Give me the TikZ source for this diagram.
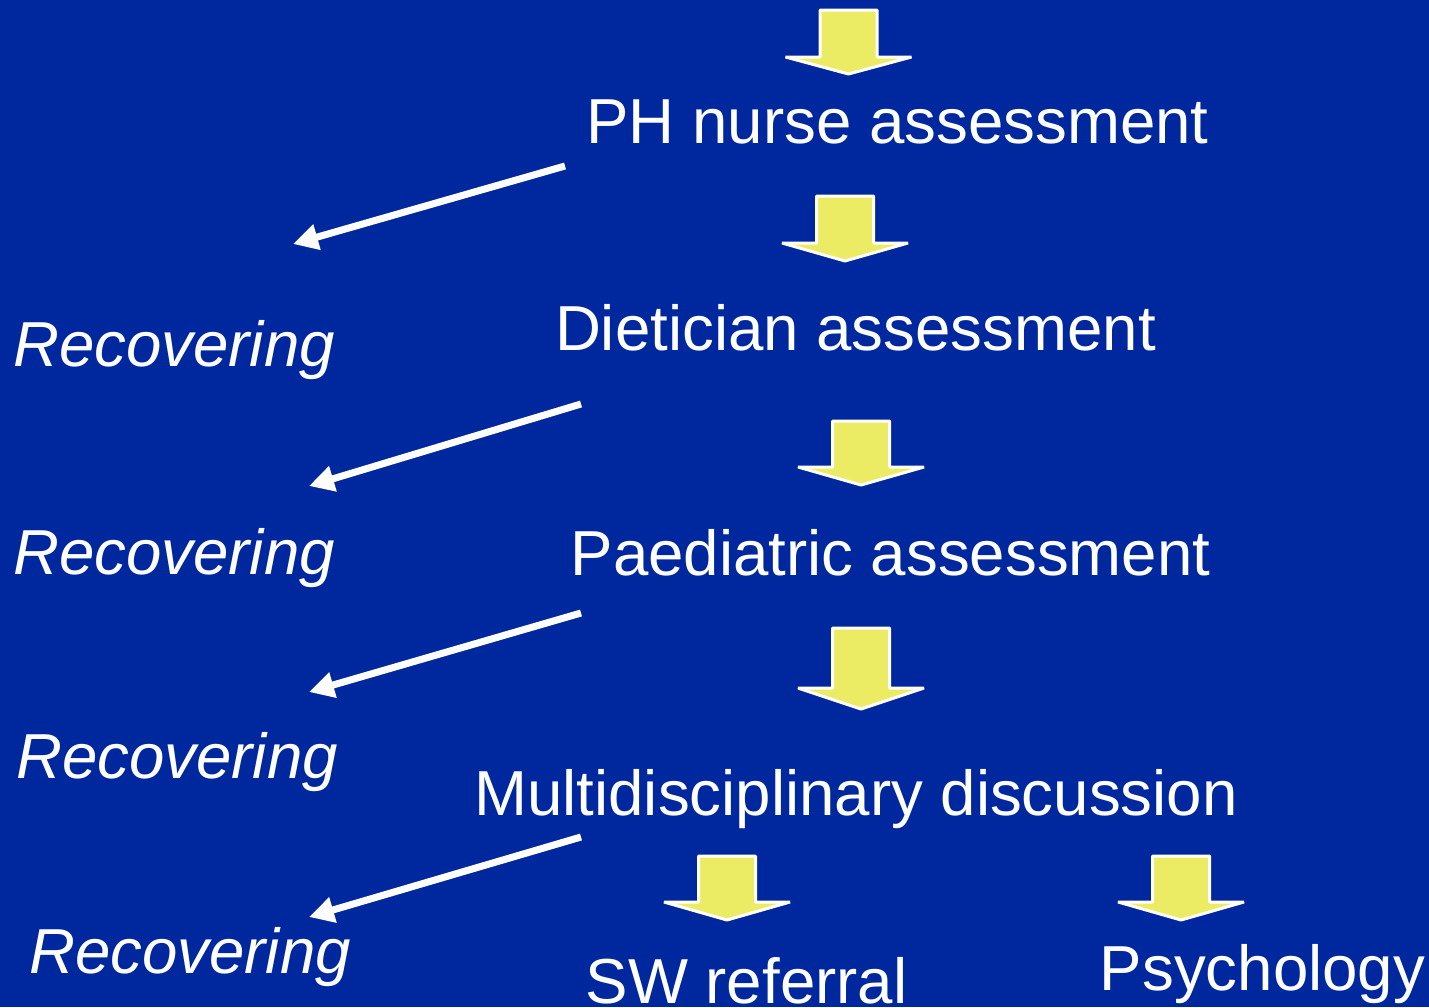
\documentclass[tikz,border=0pt]{standalone}
\usepackage{fontspec}
\setmainfont{Liberation Sans}
\usetikzlibrary{arrows.meta}
\definecolor{bg}{HTML}{00289E}
\definecolor{ylw}{HTML}{ECEC64}
\tikzset{
  blockarrow/.style={fill=ylw,draw=white,line width=1.5pt,line join=bevel},
  stagetext/.style={text=white,inner sep=0pt,anchor=base,font=\fontsize{31.8pt}{36pt}\selectfont},
  rectext/.style={stagetext,font=\fontsize{31.8pt}{36pt}\selectfont\itshape},
  whitearrow/.style={draw=white,line width=3.5pt,-{Triangle[length=12.5pt,width=12.5pt]}}
}
% #1 centre x, #2 top y, #3 head y, #4 tip y
\newcommand\yarrow[4]{%
  \draw[blockarrow] (#1-28.5,#2) -- (#1+28.5,#2) -- (#1+28.5,#3) -- (#1+63,#3)
    -- (#1,#4) -- (#1-63,#3) -- (#1-28.5,#3) -- cycle;}
\begin{document}
\begin{tikzpicture}[x=0.5pt,y=-0.5pt]
\fill[bg] (0,0) rectangle (1429,1007);
\useasboundingbox (0,0) rectangle (1429,1007);

% block arrows
\yarrow{848.5}{10}{57}{74}
\yarrow{845}{196}{243}{261}
\yarrow{861}{421}{467}{485}
\yarrow{861}{628}{688}{709}
\yarrow{727}{856}{902}{920}
\yarrow{1181}{856}{902}{920}

% stage texts
\node[stagetext] (ph) at (897.5,143) {PH nurse assessment};
\node[stagetext] (diet) at (855.5,350) {Dietician assessment};
\node[stagetext] (paed) at (890.5,575) {Paediatric assessment};
\node[stagetext] (mdd) at (856,815) {Multidisciplinary discussion};
\node[stagetext] (sw) at (746.5,1003) {SW referral};
\node[stagetext] (psy) at (1262.5,990) {Psychology};

% recovering texts
\node[rectext] (rec1) at (174,366) {Recovering};
\node[rectext] (rec2) at (174,574) {Recovering};
\node[rectext] (rec3) at (177,778) {Recovering};
\node[rectext] (rec4) at (190,973) {Recovering};

% white arrows
\coordinate (w1s) at (565,166); \coordinate (w1e) at (293,244);
\coordinate (w2s) at (581,404); \coordinate (w2e) at (309,486);
\coordinate (w3s) at (581,613); \coordinate (w3e) at (309,692);
\coordinate (w4s) at (581,837); \coordinate (w4e) at (309,917);
\draw[whitearrow] (w1s) -- (w1e);
\draw[whitearrow] (w2s) -- (w2e);
\draw[whitearrow] (w3s) -- (w3e);
\draw[whitearrow] (w4s) -- (w4e);
\end{tikzpicture}
\end{document}
